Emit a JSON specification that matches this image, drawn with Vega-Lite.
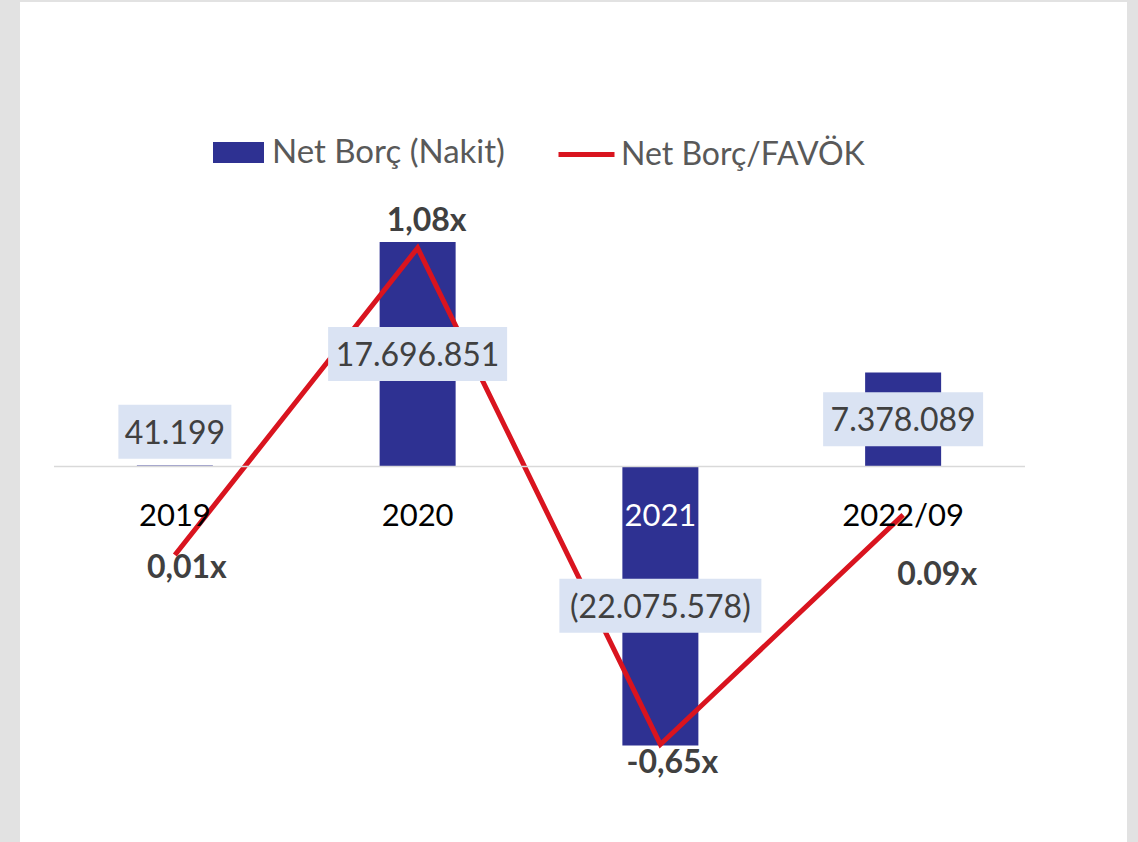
{
  "$schema": "https://vega.github.io/schema/vega-lite/v6.json",
  "autosize": "none",
  "width": 1107,
  "height": 840,
  "padding": {"left": 20, "top": 2, "right": 11, "bottom": 0},
  "background": "#e2e2e2",
  "config": {"view": {"fill": "white", "stroke": null}, "font": "Lato"},
  "data": {
    "values": [
      {"year": "2019", "net_debt": 41199, "net_debt_label": "41.199", "ratio": 0.01, "ratio_label": "0,01x"},
      {"year": "2020", "net_debt": 17696851, "net_debt_label": "17.696.851", "ratio": 1.08, "ratio_label": "1,08x"},
      {"year": "2021", "net_debt": -22075578, "net_debt_label": "(22.075.578)", "ratio": -0.65, "ratio_label": "-0,65x"},
      {"year": "2022/09", "net_debt": 7378089, "net_debt_label": "7.378.089", "ratio": 0.15, "ratio_label": "0.09x"}
    ]
  },
  "encoding": {
    "x": {
      "field": "year",
      "type": "nominal",
      "sort": null,
      "scale": {"type": "band", "domain": ["2019", "2020", "2021", "2022/09"], "range": [33.5, 1004.5], "paddingInner": 0, "paddingOuter": 0},
      "axis": {
        "title": null,
        "orient": "bottom",
        "offset": -376,
        "domainColor": "#d9d9d9",
        "domainWidth": 1.5,
        "ticks": false,
        "tickSize": 0,
        "grid": false,
        "labelPadding": 35,
        "labelFont": "Lato",
        "labelFontSize": 31,
        "labelAngle": 0,
        "labelColor": {"condition": {"test": "datum.value === '2021'", "value": "white"}, "value": "black"},
        "zindex": 1
      }
    }
  },
  "layer": [
    {
      "mark": {"type": "bar", "width": 76},
      "encoding": {
        "y": {"field": "net_debt", "type": "quantitative", "scale": {"domain": [-29704000, 36656000], "nice": false, "zero": false}, "axis": null},
        "fill": {
          "datum": "Net Borç (Nakit)",
          "scale": {"range": ["#2e3192"]},
          "legend": {
            "title": null, "orient": "none", "legendX": 193, "legendY": 125,
            "symbolType": "M-1,-0.4118H1V0.4118H-1Z", "symbolSize": 2601, "symbolStrokeWidth": 0, "symbolOpacity": 1,
            "labelFont": "Lato", "labelFontSize": 33, "labelColor": "#595959", "labelOffset": 8, "labelLimit": 0, "padding": 0
          }
        }
      }
    },
    {
      "encoding": {
        "y": {"field": "ratio", "type": "quantitative", "scale": {"domain": [-0.9899, 1.9369], "nice": false, "zero": false}, "axis": null}
      },
      "layer": [
        {
          "mark": {"type": "line", "strokeWidth": 5, "strokeJoin": "miter"},
          "encoding": {
            "stroke": {
              "datum": "Net Borç/FAVÖK",
              "scale": {"range": ["#d9141f"]},
              "legend": {
                "title": null, "orient": "none", "legendX": 536, "legendY": 122,
                "symbolType": "stroke", "symbolSize": 3136, "symbolStrokeWidth": 5,
                "labelFont": "Lato", "labelFontSize": 32, "labelColor": "#595959", "labelOffset": 4, "labelLimit": 0, "padding": 0
              }
            }
          }
        },
        {
          "transform": [{"filter": "datum.year === '2019'"}],
          "mark": {"type": "text", "font": "Lato", "fontSize": 32, "fontWeight": "bold", "color": "#404040", "baseline": "middle", "dx": 12, "dy": 13},
          "encoding": {"text": {"field": "ratio_label"}}
        },
        {
          "transform": [{"filter": "datum.year === '2020'"}],
          "mark": {"type": "text", "font": "Lato", "fontSize": 32, "fontWeight": "bold", "color": "#404040", "baseline": "middle", "dx": 9, "dy": -27},
          "encoding": {"text": {"field": "ratio_label"}}
        },
        {
          "transform": [{"filter": "datum.year === '2021'"}],
          "mark": {"type": "text", "font": "Lato", "fontSize": 32, "fontWeight": "bold", "color": "#404040", "baseline": "middle", "dx": 12, "dy": 19},
          "encoding": {"text": {"field": "ratio_label"}}
        },
        {
          "transform": [{"filter": "datum.year === '2022/09'"}],
          "mark": {"type": "text", "font": "Lato", "fontSize": 32, "fontWeight": "bold", "color": "#404040", "baseline": "middle", "dx": 34, "dy": 60},
          "encoding": {"text": {"field": "ratio_label"}}
        }
      ]
    },
    {
      "encoding": {
        "y": {"field": "net_debt", "type": "quantitative", "scale": {"domain": [-59408000, 73312000], "nice": false, "zero": false}, "axis": null}
      },
      "layer": [
        {
          "transform": [{"filter": "datum.year !== '2019'"}],
          "mark": {"type": "tick", "orient": "horizontal", "thickness": 54, "color": "#dae3f3", "opacity": 1},
          "encoding": {
            "size": {"field": "year", "type": "nominal", "scale": {"type": "ordinal", "domain": ["2019", "2020", "2021", "2022/09"], "range": [113, 179, 202, 160]}, "legend": null}
          }
        },
        {
          "transform": [{"filter": "datum.year === '2019'"}],
          "mark": {"type": "tick", "orient": "horizontal", "thickness": 54, "color": "#dae3f3", "opacity": 1, "yOffset": -34},
          "encoding": {
            "size": {"field": "year", "type": "nominal", "scale": {"type": "ordinal", "domain": ["2019", "2020", "2021", "2022/09"], "range": [113, 179, 202, 160]}, "legend": null}
          }
        },
        {
          "transform": [{"filter": "datum.year !== '2019'"}],
          "mark": {"type": "text", "font": "Lato", "fontSize": 32, "color": "#404040", "baseline": "middle", "dy": 2},
          "encoding": {"text": {"field": "net_debt_label"}}
        },
        {
          "transform": [{"filter": "datum.year === '2019'"}],
          "mark": {"type": "text", "font": "Lato", "fontSize": 32, "color": "#404040", "baseline": "middle", "dy": -32},
          "encoding": {"text": {"field": "net_debt_label"}}
        }
      ]
    }
  ],
  "resolve": {"scale": {"y": "independent"}}
}
